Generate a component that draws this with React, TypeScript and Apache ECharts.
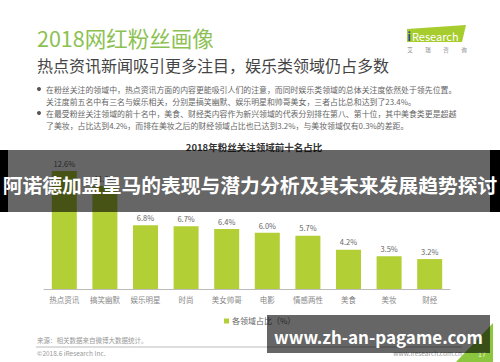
import React, { useEffect, useRef } from "react";
import * as echarts from "echarts";

const categories = ["热点资讯", "搞笑幽默", "娱乐明星", "时尚", "美女帅哥", "电影", "情感两性", "美食", "美妆", "财经"];
const shares = [12.6, 11.0, 6.8, 6.7, 6.4, 6.0, 5.7, 4.2, 3.5, 3.2];
const seriesName = "各领域占比（%）";

const headTitle = "2018网红粉丝画像";
const headSubtitle = "热点资讯新闻吸引更多注目，娱乐类领域仍占多数";
const bulletLines = [
  "在粉丝关注的领域中，热点资讯方面的内容更能吸引人们的注意，而同时娱乐类领域的总体关注度依然处于领先位置。",
  "关注度前五名中有三名与娱乐相关，分别是搞笑幽默、娱乐明星和帅哥美女，三者占比总和达到了23.4%。",
  "在最受粉丝关注领域的前十名中，美食、财经类内容作为新兴领域的代表分别排在第八、第十位，其中美食类更是超越",
  "了美妆，占比达到4.2%，而排在美妆之后的财经领域占比也已达到3.2%，与美妆领域仅有0.3%的差距。",
];
const chartTitle = "2018年粉丝关注领域前十名占比";
const bandText = "阿诺德加盟皇马的表现与潜力分析及其未来发展趋势探讨";
const watermark = "www.zh-an-pagame.com";
const sourceText = "来源：相关数据来自微博大数据统计。";
const copyright = "©2018.6 iResearch Inc.";
const siteText = "www.iresearch.com.cn";
const pageNo = "17";
const logoSub = ["艾", "瑞", "咨", "询"];

const FONT = '"Noto Sans CJK SC", "Noto Sans", sans-serif';

export default function App() {
  const ref = useRef<HTMLDivElement>(null);
  useEffect(() => {
    if (!ref.current) return;
    const chart = echarts.init(ref.current, undefined, { renderer: "svg" });
    const lineYs = [89, 101, 113, 125];
    const graphic: any[] = [
      { type: "text", left: 37, top: 27, z: 10, style: { text: headTitle, fontSize: 21.5, fill: "#8cc152", fontFamily: FONT } },
      { type: "text", left: 37, top: 57, z: 10, style: { text: headSubtitle, fontSize: 16, fill: "#444", fontFamily: FONT } },
      // logo
      { type: "polygon", z: 10, shape: { points: [[407, 29], [466, 25], [462, 42], [407, 42]] }, style: { fill: "#a6cc2e" } },
      { type: "text", x: 407.5, y: 35.5, z: 11, style: { text: "i", fontSize: 11, fill: "#1f4a8f", fontFamily: FONT, verticalAlign: "middle", fontWeight: "bold" } },
      { type: "text", x: 412, y: 35.5, z: 11, style: { text: "Research", fontSize: 11, fill: "#fff", fontFamily: FONT, verticalAlign: "middle" } },
      ...logoSub.map((t, i) => ({ type: "text", x: 410 + i * 18, y: 50, z: 10, style: { text: t, fontSize: 5.5, fill: "#888", fontFamily: FONT, align: "center", verticalAlign: "middle" } })),
      // bullets
      { type: "circle", z: 10, shape: { cx: 39, cy: 89, r: 2 }, style: { fill: "#555" } },
      { type: "circle", z: 10, shape: { cx: 39, cy: 113, r: 2 }, style: { fill: "#555" } },
      ...bulletLines.map((t, i) => ({ type: "text", x: 46, y: lineYs[i], z: 10, style: { text: t, fontSize: 7.9, fill: "#666", fontFamily: FONT, verticalAlign: "middle" } })),
      { type: "text", x: 254, y: 146.5, z: 10, style: { text: chartTitle, fontSize: 9.5, fontWeight: "bold", fill: "#333", fontFamily: FONT, align: "center", verticalAlign: "middle" } },
      // footer
      { type: "text", x: 37, y: 340, z: 10, style: { text: sourceText, fontSize: 6.5, fill: "#999", fontFamily: FONT, verticalAlign: "middle" } },
      { type: "line", z: 10, shape: { x1: 36, y1: 347, x2: 462, y2: 347 }, style: { stroke: "#aaa", lineWidth: 0.8 } },
      { type: "text", x: 37, y: 353, z: 10, style: { text: copyright, fontSize: 6.5, fill: "#999", fontFamily: FONT, verticalAlign: "middle" } },
      { type: "text", x: 462, y: 353, z: 10, style: { text: siteText, fontSize: 6.5, fill: "#999", fontFamily: FONT, align: "right", verticalAlign: "middle" } },
      { type: "polygon", z: 10, shape: { points: [[456, 362], [493, 362], [493, 323]] }, style: { fill: "#8cc63e" } },
      { type: "text", x: 482, y: 354, z: 11, style: { text: pageNo, fontSize: 7, fill: "#eef5dd", fontFamily: FONT, align: "center", verticalAlign: "middle" } },
      // overlays
      { type: "rect", z: 100, shape: { x: 8, y: 150, width: 482, height: 62 }, style: { fill: "rgba(0,0,0,0.6)" } },
      { type: "rect", z: 100, shape: { x: 0, y: 150, width: 8, height: 62 }, style: { fill: "#000" } },
      { type: "rect", z: 100, shape: { x: 490, y: 150, width: 10, height: 62 }, style: { fill: "#000" } },
      { type: "text", x: 250, y: 184, z: 101, style: { text: bandText, fontSize: 19.8, fontWeight: "bold", fill: "#fff", fontFamily: FONT, align: "center", verticalAlign: "middle" } },
      { type: "rect", z: 100, shape: { x: 267, y: 315, width: 223, height: 38 }, style: { fill: "rgba(0,0,0,0.6)" } },
      { type: "text", x: 378.5, y: 336, z: 101, style: { text: watermark, fontSize: 17, fontWeight: "bold", fill: "#fff", fontFamily: FONT, align: "center", verticalAlign: "middle" } },
    ];
    chart.setOption({
      animation: false,
      backgroundColor: "#fff",
      textStyle: { fontFamily: FONT },
      grid: { left: 44, width: 406, top: 158, height: 131 },
      legend: {
        left: 219, top: 312, icon: "rect", itemWidth: 5, itemHeight: 5, itemGap: 4,
        textStyle: { fontSize: 8, color: "#666", fontFamily: FONT, padding: [0, 0, 0, -2] },
        data: [seriesName],
      },
      xAxis: {
        type: "category", data: categories,
        axisLine: { lineStyle: { color: "#bbb", width: 1 } },
        axisTick: { show: false },
        axisLabel: { fontSize: 7.5, color: "#888", margin: 7, fontFamily: FONT },
      },
      yAxis: { type: "value", min: 0, max: 14, show: false, splitLine: { show: false } },
      series: [
        {
          name: seriesName, type: "bar", data: shares, barWidth: 25,
          itemStyle: { color: "#b2cf36" },
          label: { show: true, position: "top", distance: 4, fontSize: 7.5, color: "#666", fontFamily: FONT, formatter: (p: any) => Number(p.value).toFixed(1) + "%" },
        },
      ],
      graphic,
    });
    return () => chart.dispose();
  }, []);
  return <div ref={ref} style={{ position: "fixed", left: 0, top: 0, width: 500, height: 362 }} />;
}
